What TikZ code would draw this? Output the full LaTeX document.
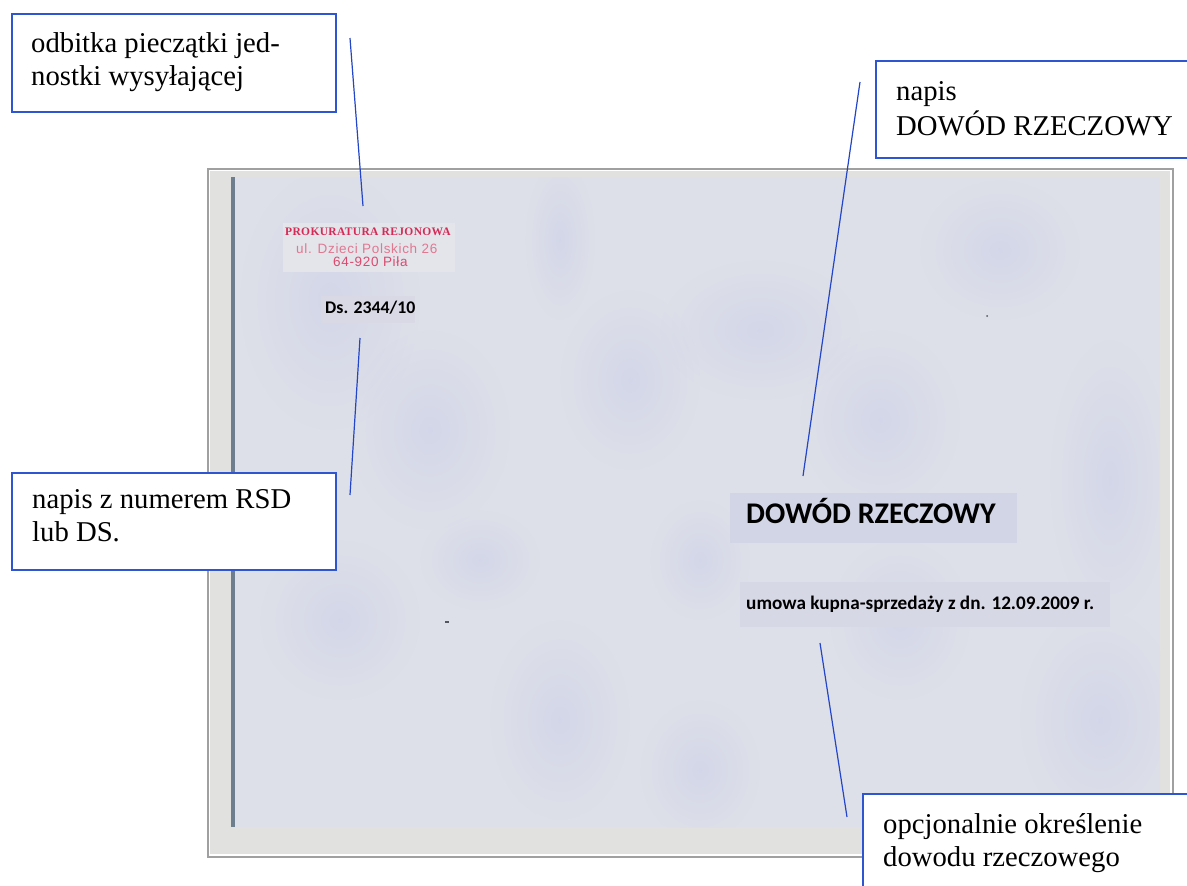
\documentclass[tikz,border=0pt]{standalone}
\usepackage{fontspec}
\setmainfont{Liberation Serif}
\newfontfamily\calb{Carlito}
\newfontfamily\stampserif[LetterSpace=3]{Liberation Serif}
\newfontfamily\stampsans[LetterSpace=5]{Liberation Sans}
\usetikzlibrary{fadings}
\definecolor{boxblue}{HTML}{2F55D0}
\definecolor{linkblue}{HTML}{2346C8}
\definecolor{photobg}{HTML}{E1E1DF}
\definecolor{envcol}{HTML}{DEE0E9}
\definecolor{blobcol}{HTML}{CBCFE8}
\definecolor{envedge}{HTML}{6E7E8E}
\definecolor{framegray}{HTML}{A0A0A0}
\definecolor{stampred}{HTML}{D42A55}
\definecolor{stampredlight}{HTML}{E07890}
\definecolor{stampbg}{HTML}{E4E4EB}
\definecolor{dsbg}{HTML}{D8D9E4}
\definecolor{dowodbg}{HTML}{D2D5E6}
\definecolor{umowabg}{HTML}{D7D8E6}
\definecolor{speck}{HTML}{555560}
\tikzfading[name=fuzzy, inner color=transparent!0, outer color=transparent!100]
\tikzset{
  labelbox/.style={draw=boxblue, line width=1.6pt, fill=white, inner sep=0pt, anchor=north west},
  labeltext/.style={anchor=north west, inner sep=0pt, align=left, font=\fontsize{28.7}{33}\selectfont},
  link/.style={draw=linkblue, line width=1.2pt},
  blob/.style={fill=blobcol, fill opacity=0.55, path fading=fuzzy},
  envtext/.style={anchor=base west, inner sep=0pt, text=black},
  textbg/.style={inner sep=0pt, anchor=north west},
}
\begin{document}
\begin{tikzpicture}[x=1pt,y=-1pt]
\useasboundingbox (0,0) rectangle (1187,886);
\fill[white] (0,0) rectangle (1187,886);
% photo frame
\node[draw=framegray, line width=2pt, fill=white, inner sep=0pt, anchor=north west,
      minimum width=965pt, minimum height=688pt] (frame) at (207,168) {};
\node[fill=photobg, inner sep=0pt, anchor=north west,
      minimum width=960pt, minimum height=683pt] (photo) at (209.5,170.5) {};
% envelope
\node[fill=envcol, inner sep=0pt, anchor=north west,
      minimum width=927pt, minimum height=650pt] (env) at (233,177) {};
\begin{scope}
\clip (233,177) rectangle (1160,827);
\fill[blob] (330,300) ellipse (90pt and 130pt);
\fill[blob] (430,430) ellipse (80pt and 100pt);
\fill[blob] (560,240) ellipse (35pt and 80pt);
\fill[blob] (630,380) ellipse (70pt and 90pt);
\fill[blob] (760,330) ellipse (100pt and 70pt);
\fill[blob] (880,420) ellipse (80pt and 90pt);
\fill[blob] (1000,250) ellipse (80pt and 70pt);
\fill[blob] (1110,480) ellipse (60pt and 140pt);
\fill[blob] (1100,720) ellipse (80pt and 110pt);
\fill[blob] (560,720) ellipse (70pt and 100pt);
\fill[blob] (700,770) ellipse (60pt and 70pt);
\fill[blob] (340,620) ellipse (80pt and 80pt);
\fill[blob] (900,620) ellipse (70pt and 80pt);
\fill[blob] (480,560) ellipse (60pt and 50pt);
\fill[blob] (700,560) ellipse (50pt and 60pt);
\end{scope}
\fill[envedge] (231,177) rectangle (234.5,827);
% specks
\fill[speck] (445,621) rectangle (449,623);
\fill[speck] (987,316) circle (1pt);
% stamp
\node[textbg, fill=stampbg, minimum width=172pt, minimum height=49pt] (stampbg) at (283,223) {};
\node[envtext, text=stampred, font=\stampserif\bfseries\fontsize{11.5}{13}\selectfont] (st1) at (285,235) {PROKURATURA REJONOWA};
\node[envtext, text=stampredlight, font=\stampsans\fontsize{13.5}{15}\selectfont] (st2) at (296,253) {ul. Dzieci Polskich 26};
\node[envtext, text=stampred!85, font=\stampsans\fontsize{13.5}{15}\selectfont] (st3) at (333,266) {64-920 Piła};
% Ds number
\node[textbg, fill=dsbg, minimum width=94pt, minimum height=27pt] (dsbg) at (321,296) {};
\node[envtext, font=\calb\bfseries\fontsize{17.8}{20}\selectfont] (ds) at (325,313) {Ds. 2344/10};
% DOWOD RZECZOWY
\node[textbg, fill=dowodbg, minimum width=287pt, minimum height=50pt] (dowbg) at (730,493) {};
\node[envtext, font=\calb\bfseries\fontsize{30}{34}\selectfont] (dowod) at (746,523) {DOWÓD RZECZOWY};
% umowa
\node[textbg, fill=umowabg, minimum width=370pt, minimum height=45pt] (umbg) at (740,582) {};
\node[envtext, font=\calb\bfseries\fontsize{19.2}{22}\selectfont] (umowa) at (746,609) {umowa kupna-sprzedaży z dn. 12.09.2009 r.};
% label boxes
\node[labelbox, minimum width=324pt, minimum height=98pt] (box1) at (11,13) {};
\node[labeltext] (txt1) at (31,28.9) {\strut odbitka pieczątki jed-\\nostki wysyłającej};
\node[labelbox, minimum width=330pt, minimum height=97pt] (box2) at (875,60) {};
\node[labeltext] (txt2) at (896,76.9) {\strut napis\\DOWÓD RZECZOWY};
\node[labelbox, minimum width=324pt, minimum height=97pt] (box3) at (11,472) {};
\node[labeltext] (txt3) at (32,484.9) {\strut napis z numerem RSD\\lub DS.};
\node[labelbox, minimum width=340pt, minimum height=110pt] (box4) at (862,793) {};
\node[labeltext] (txt4) at (883,809.9) {\strut opcjonalnie określenie\\dowodu rzeczowego};
% connectors
\coordinate (c1a) at (350,38);  \coordinate (c1b) at (363,206);
\coordinate (c2a) at (860,82);  \coordinate (c2b) at (803,476);
\coordinate (c3a) at (360,338); \coordinate (c3b) at (350,495);
\coordinate (c4a) at (820,643); \coordinate (c4b) at (847,817);
\draw[link] (c1a) -- (c1b);
\draw[link] (c2a) -- (c2b);
\draw[link] (c3a) -- (c3b);
\draw[link] (c4a) -- (c4b);
\end{tikzpicture}
\end{document}
